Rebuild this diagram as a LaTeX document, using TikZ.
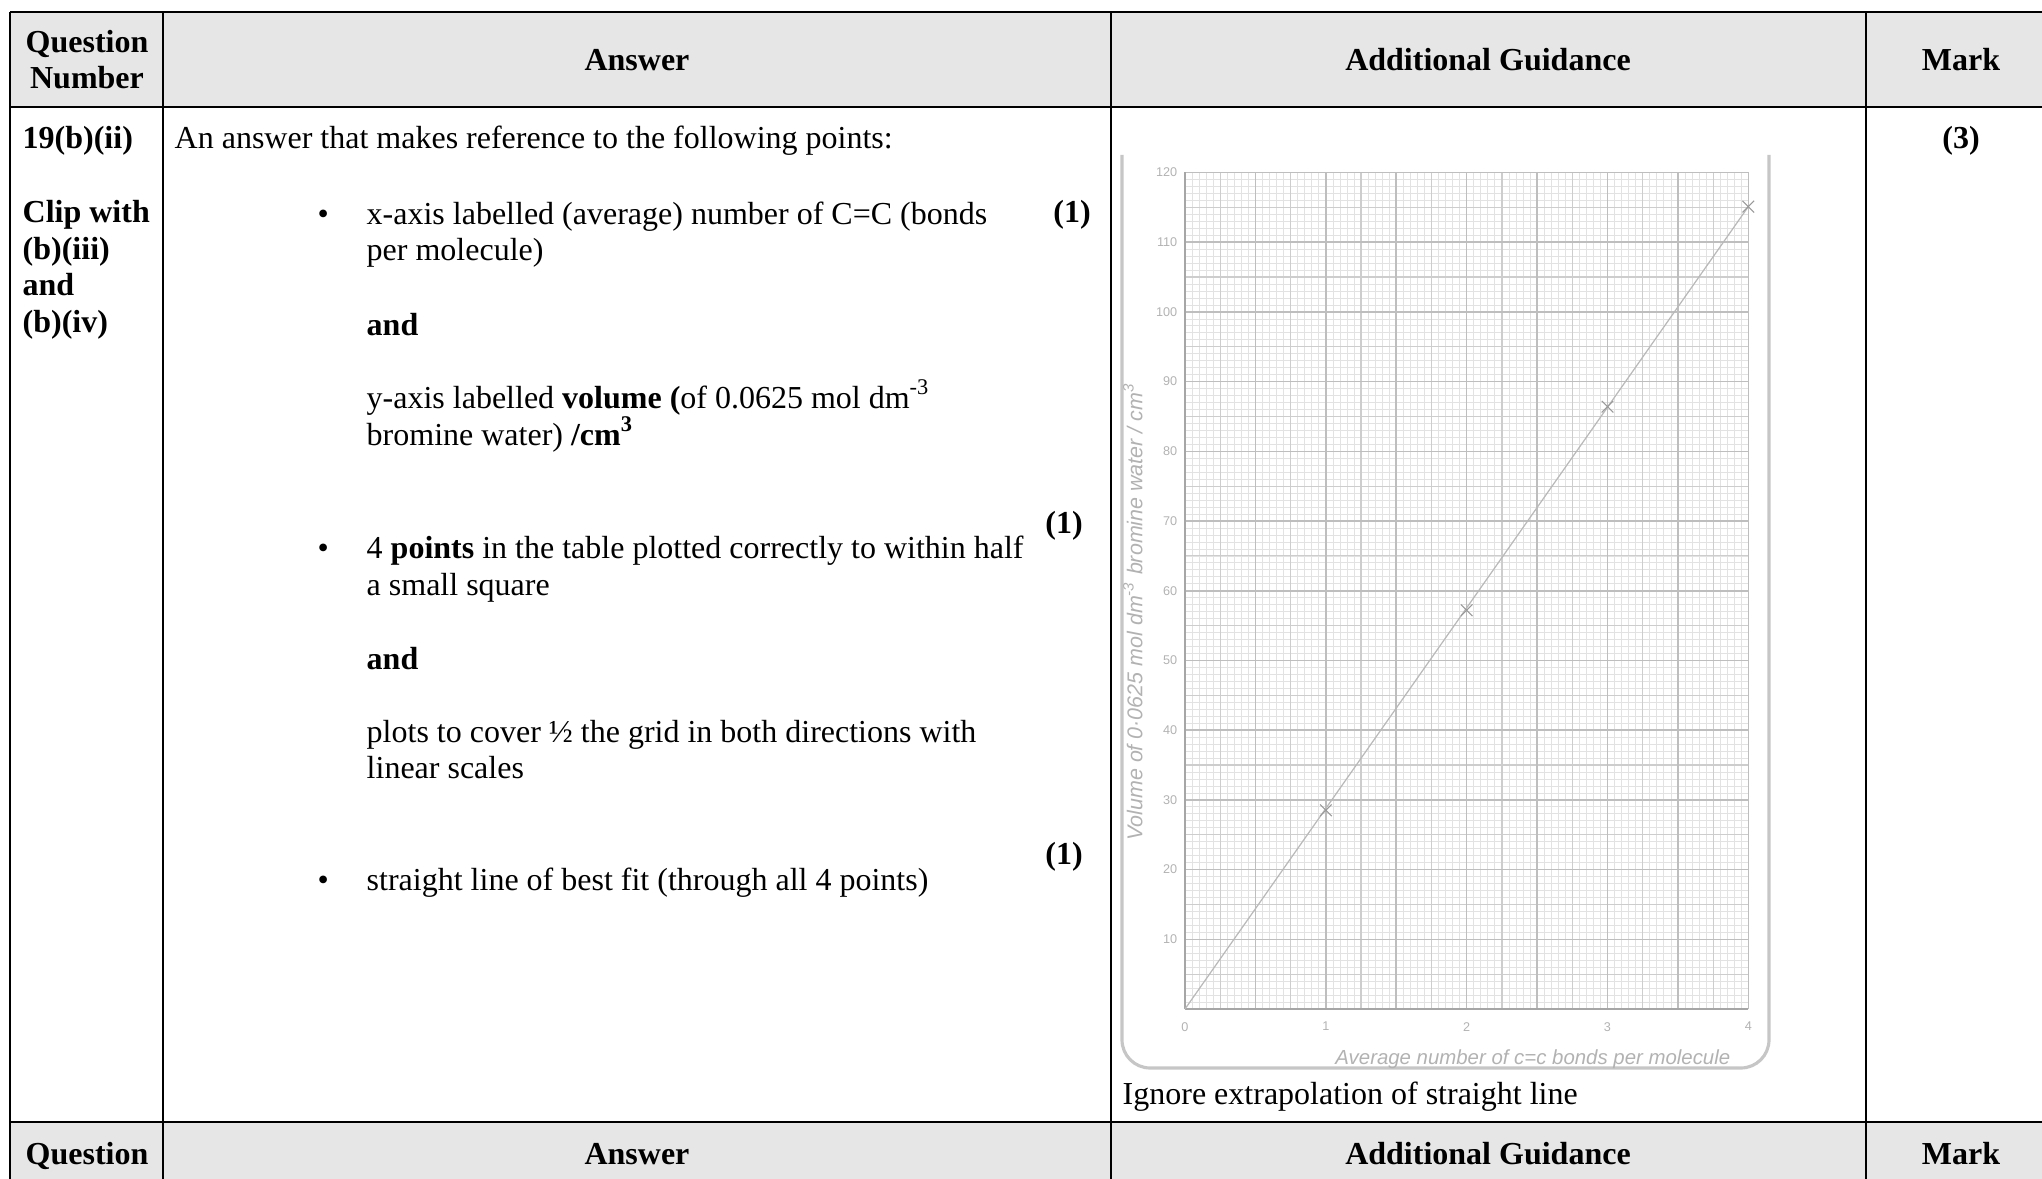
\documentclass[tikz,border=0pt]{standalone}
\usepackage{fontspec}
\setmainfont{Liberation Serif}
\setsansfont{Liberation Sans}
\usepackage{tikz}
\usetikzlibrary{shapes.misc}

\definecolor{headgrey}{HTML}{E6E6E6}
\definecolor{pencil}{HTML}{B2B2B2}
\definecolor{minorgrid}{HTML}{E2E2E2}
\definecolor{midgrid}{HTML}{CDCDCD}
\definecolor{majorgrid}{HTML}{BEBEBE}
\newcommand\tabfont{\fontsize{9.1}{10.3}\selectfont}

\begin{document}
\begin{tikzpicture}[x=0.01cm,y=-0.01cm,
  txt/.style={anchor=base west,inner sep=0pt,font=\tabfont},
  btxt/.style={anchor=base west,inner sep=0pt,font=\tabfont\bfseries},
  bhead/.style={anchor=base,inner sep=0pt,font=\tabfont\bfseries},
  rule/.style={line width=0.4pt},
  thickrule/.style={line width=0.65pt},
  hand/.style={inner sep=0pt,text=pencil,font=\sffamily\itshape\fontsize{6.1}{7}\selectfont},
  tick/.style={inner sep=0pt,text=pencil,font=\sffamily\fontsize{3.6}{4}\selectfont},
  crossmark/.style={cross out,draw=gray!80,line width=0.3pt,minimum size=3pt,inner sep=0pt}]
\clip (0,0) rectangle (2042,1179);

% table
\fill[headgrey] (10,12) rectangle (2060,107);
\fill[headgrey] (10,1122) rectangle (2060,1179);
\draw[rule] (10,12) -- (2060,12);
\draw[thickrule] (10,107) -- (2060,107);
\draw[thickrule] (10,1122) -- (2060,1122);
\foreach \x in {10,163,1111,1866}
  \draw[rule] (\x,12) -- (\x,1179);

\node[bhead] (qhead) at (87,53) {Question};
\node[bhead] (nhead) at (87,89) {Number};
\node[bhead] (ahead) at (637,71) {Answer};
\node[bhead] (ghead) at (1488,71) {Additional Guidance};
\node[bhead] (mhead) at (1961,71) {Mark};

\node[btxt] (qnum) at (22,149) {19(b)(ii)};
\node[btxt] (clipa) at (22,223) {Clip with};
\node[btxt] (clipb) at (22,260) {(b)(iii)};
\node[btxt] (clipc) at (22,296) {and};
\node[btxt] (clipd) at (22,333) {(b)(iv)};

\node[txt] (intro) at (174,149) {An answer that makes reference to the following points:};
\node[txt] (bulA) at (317,225) {\textbullet};
\node[txt] (ptAa) at (366,225) {x-axis labelled (average) number of C=C (bonds};
\node[txt] (ptAb) at (366,261) {per molecule)};
\node[btxt] (andA) at (366,336) {and};
\node[txt] (ptBa) at (366,408) {y-axis labelled \textbf{volume (}of 0.0625 mol dm\textsuperscript{-3}};
\node[txt] (ptBb) at (366,445) {bromine water) \textbf{/cm\textsuperscript{3}}};
\node[txt] (bulC) at (317,558) {\textbullet};
\node[txt] (ptCa) at (366,558) {4 \textbf{points} in the table plotted correctly to within half};
\node[txt] (ptCb) at (366,595) {a small square};
\node[btxt] (andC) at (366,669) {and};
\node[txt] (ptDa) at (366,742) {plots to cover ½ the grid in both directions with};
\node[txt] (ptDb) at (366,778) {linear scales};
\node[txt] (bulE) at (317,890) {\textbullet};
\node[txt] (ptE) at (366,890) {straight line of best fit (through all 4 points)};

\node[bhead] (mkA) at (1072,223) {(1)};
\node[bhead] (mkB) at (1064,533) {(1)};
\node[bhead] (mkC) at (1064,864) {(1)};
\node[bhead] (total) at (1961,149) {(3)};

\node[txt] (ignore) at (1122,1104) {Ignore extrapolation of straight line};

\node[bhead] (qhead2) at (87,1164) {Question};
\node[bhead] (ahead2) at (637,1164) {Answer};
\node[bhead] (ghead2) at (1488,1164) {Additional Guidance};
\node[bhead] (mhead2) at (1961,1164) {Mark};

% scanned graph
\draw[gray!45,line width=0.9pt,rounded corners=8] (1122,155) -- (1122,1068) -- (1769,1068) -- (1769,155);
\begin{scope}[shift={(1185,1009)},x=1.4075cm,y=0.069667cm]
  \foreach \i in {0,...,80}
    \draw[minorgrid,line width=0.2pt] (\i/20,0) -- (\i/20,120);
  \foreach \j in {0,...,120}
    \draw[minorgrid,line width=0.2pt] (0,\j) -- (4,\j);
  \foreach \i in {0,...,16}
    \draw[midgrid,line width=0.35pt] (\i/4,0) -- (\i/4,120);
  \foreach \j in {0,5,...,120}
    \draw[midgrid,line width=0.35pt] (0,\j) -- (4,\j);
  \foreach \i in {0,...,8}
    \draw[majorgrid,line width=0.45pt] (\i/2,0) -- (\i/2,120);
  \foreach \j in {0,10,...,120}
    \draw[majorgrid,line width=0.45pt] (0,\j) -- (4,\j);
  \draw[gray!70,line width=0.5pt] (0,0) -- (4,0) (0,0) -- (0,120);

  \foreach \v in {10,20,...,120}
    \node[tick,anchor=east] (yt\v) at (-0.05,\v) {\v};
  \foreach \k in {0,...,4}
    \node[tick,anchor=north] (xt\k) at (\k,-1.8) {\k};
  \node[hand,rotate=90] (ylab) at (-0.37,57) {Volume of 0·0625 mol dm\textsuperscript{-3} bromine water / cm\textsuperscript{3}};
  \node[hand,font=\sffamily\itshape\fontsize{5.8}{7}\selectfont] (xlab) at (2.47,-7.2) {Average number of c=c bonds per molecule};

  \coordinate (o) at (0,0);
  \coordinate (p1) at (1,28.5);
  \coordinate (p2) at (2,57.2);
  \coordinate (p3) at (3,86.4);
  \coordinate (p4) at (4,115.1);
  \draw[gray!55,line width=0.35pt] (o) -- (p4);
  \foreach \p in {p1,p2,p3,p4}
    \node[crossmark] at (\p) {};
\end{scope}
\end{tikzpicture}
\end{document}
